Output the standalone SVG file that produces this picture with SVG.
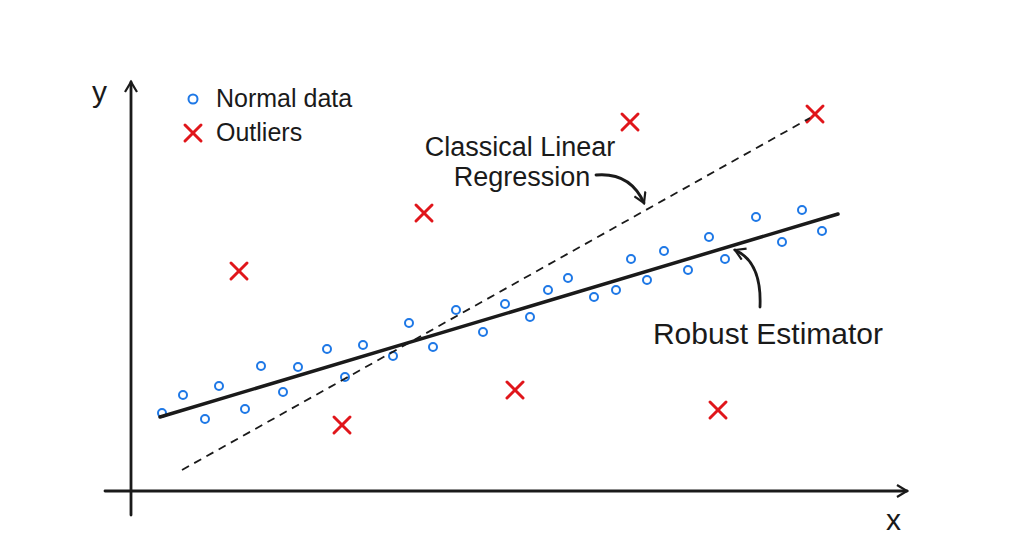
<svg xmlns="http://www.w3.org/2000/svg" width="1024" height="553" viewBox="0 0 1024 553">
<style>
.pt{fill:none;stroke:#1e78e6;stroke-width:2}
.ox{stroke:#e0161b;stroke-width:3;stroke-linecap:round}
.ax{stroke:#1a1a1a;stroke-width:2.8;fill:none;stroke-linecap:round}
.t{font-family:"Liberation Sans",sans-serif;fill:#1a1a1a}
</style>
<defs>
<marker id="ah" markerWidth="14" markerHeight="14" refX="11" refY="7" orient="auto" markerUnits="userSpaceOnUse"><path d="M1,1 L11,7 L1,13" fill="none" stroke="#1a1a1a" stroke-width="2.2"/></marker>
<g id="x"><line class="ox" x1="-8" y1="-8" x2="8" y2="8"/><line class="ox" x1="8" y1="-8" x2="-8" y2="8"/></g>
</defs>
<g id="axes">
<path class="ax" d="M131,515 L131,82" marker-end="url(#ah)"/>
<path class="ax" d="M105,491 L907,491" marker-end="url(#ah)"/>
<text class="t" x="92" y="102" font-size="30">y</text>
<text class="t" x="886" y="530" font-size="30">x</text>
</g>
<g id="legend">
<circle class="pt" cx="193" cy="99" r="4.5"/>
<text class="t" x="216" y="107" font-size="25">Normal data</text>
<use href="#x" x="193" y="133"/>
<text class="t" x="216" y="141" font-size="25">Outliers</text>
</g>
<g id="normal">
<circle class="pt" cx="162" cy="413" r="4"/><circle class="pt" cx="183" cy="395" r="4"/><circle class="pt" cx="205" cy="419" r="4"/><circle class="pt" cx="219" cy="386" r="4"/><circle class="pt" cx="245" cy="409" r="4"/><circle class="pt" cx="261" cy="366" r="4"/><circle class="pt" cx="283" cy="392" r="4"/><circle class="pt" cx="298" cy="367" r="4"/><circle class="pt" cx="327" cy="349" r="4"/><circle class="pt" cx="345" cy="377" r="4"/><circle class="pt" cx="363" cy="345" r="4"/><circle class="pt" cx="393" cy="356" r="4"/><circle class="pt" cx="409" cy="323" r="4"/><circle class="pt" cx="433" cy="347" r="4"/><circle class="pt" cx="456" cy="310" r="4"/><circle class="pt" cx="483" cy="332" r="4"/><circle class="pt" cx="505" cy="304" r="4"/><circle class="pt" cx="530" cy="317" r="4"/><circle class="pt" cx="548" cy="290" r="4"/><circle class="pt" cx="568" cy="278" r="4"/><circle class="pt" cx="594" cy="297" r="4"/><circle class="pt" cx="616" cy="290" r="4"/><circle class="pt" cx="631" cy="259" r="4"/><circle class="pt" cx="647" cy="280" r="4"/><circle class="pt" cx="664" cy="251" r="4"/><circle class="pt" cx="688" cy="270" r="4"/><circle class="pt" cx="709" cy="237" r="4"/><circle class="pt" cx="725" cy="259" r="4"/><circle class="pt" cx="756" cy="217" r="4"/><circle class="pt" cx="782" cy="242" r="4"/><circle class="pt" cx="802" cy="210" r="4"/><circle class="pt" cx="822" cy="231" r="4"/>
</g>
<g id="outliers">
<use href="#x" x="239" y="271"/><use href="#x" x="424" y="213"/><use href="#x" x="630" y="122"/><use href="#x" x="815" y="114"/><use href="#x" x="342" y="425"/><use href="#x" x="515" y="390"/><use href="#x" x="718" y="410"/>
</g>
<g id="lines">
<line x1="182" y1="470" x2="810" y2="118" stroke="#1a1a1a" stroke-width="1.8" stroke-dasharray="8,6"/>
<line x1="160" y1="417" x2="838" y2="214" stroke="#1a1a1a" stroke-width="3.5" stroke-linecap="round"/>
</g>
<g id="labels">
<text class="t" x="520" y="156" text-anchor="middle" font-size="27">Classical Linear</text>
<text class="t" x="522" y="186" text-anchor="middle" font-size="27">Regression</text>
<path class="ax" stroke-width="1.8" d="M596,175 Q630,172 644,203" marker-end="url(#ah)"/>
<text class="t" x="768" y="344" text-anchor="middle" font-size="30">Robust Estimator</text>
<path class="ax" stroke-width="1.8" d="M760,307 Q762,262 735,250" marker-end="url(#ah)"/>
</g>
</svg>
